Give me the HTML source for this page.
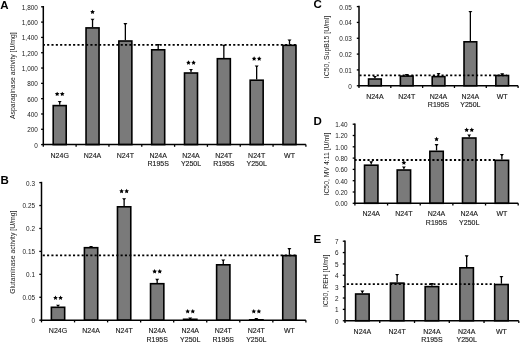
<!DOCTYPE html>
<html><head><meta charset="utf-8"><style>
html,body{margin:0;padding:0;background:#fff;width:520px;height:342px;overflow:hidden}
svg text{font-family:"Liberation Sans", sans-serif;stroke:#1a1a1a;stroke-width:0.14px}
svg text.L,svg text.T{stroke:none}
svg{will-change:transform}
</style></head><body>
<svg width="520" height="342" viewBox="0 0 520 342" style="display:block">
<rect width="520" height="342" fill="#fff"/>
<g><text class="L" x="0.3" y="9.4" font-size="11.5" font-weight="bold" fill="#000">A</text><text class="T" transform="translate(15.1,75.6) rotate(-90)" text-anchor="middle" font-size="6.85" fill="#1a1a1a">Asparaginase activity [U/mg]</text><line x1="41.099999999999994" y1="144.60" x2="43.3" y2="144.60" stroke="#000" stroke-width="1.3"/><text class="T" x="37.8" y="147.50" text-anchor="end" font-size="6.4" fill="#1a1a1a">0</text><line x1="41.099999999999994" y1="129.29" x2="43.3" y2="129.29" stroke="#000" stroke-width="1.3"/><text class="T" x="37.8" y="132.19" text-anchor="end" font-size="6.4" fill="#1a1a1a">200</text><line x1="41.099999999999994" y1="113.98" x2="43.3" y2="113.98" stroke="#000" stroke-width="1.3"/><text class="T" x="37.8" y="116.88" text-anchor="end" font-size="6.4" fill="#1a1a1a">400</text><line x1="41.099999999999994" y1="98.67" x2="43.3" y2="98.67" stroke="#000" stroke-width="1.3"/><text class="T" x="37.8" y="101.57" text-anchor="end" font-size="6.4" fill="#1a1a1a">600</text><line x1="41.099999999999994" y1="83.36" x2="43.3" y2="83.36" stroke="#000" stroke-width="1.3"/><text class="T" x="37.8" y="86.26" text-anchor="end" font-size="6.4" fill="#1a1a1a">800</text><line x1="41.099999999999994" y1="68.04" x2="43.3" y2="68.04" stroke="#000" stroke-width="1.3"/><text class="T" x="37.8" y="70.94" text-anchor="end" font-size="6.4" fill="#1a1a1a">1,000</text><line x1="41.099999999999994" y1="52.73" x2="43.3" y2="52.73" stroke="#000" stroke-width="1.3"/><text class="T" x="37.8" y="55.63" text-anchor="end" font-size="6.4" fill="#1a1a1a">1,200</text><line x1="41.099999999999994" y1="37.42" x2="43.3" y2="37.42" stroke="#000" stroke-width="1.3"/><text class="T" x="37.8" y="40.32" text-anchor="end" font-size="6.4" fill="#1a1a1a">1,400</text><line x1="41.099999999999994" y1="22.11" x2="43.3" y2="22.11" stroke="#000" stroke-width="1.3"/><text class="T" x="37.8" y="25.01" text-anchor="end" font-size="6.4" fill="#1a1a1a">1,600</text><line x1="41.099999999999994" y1="6.80" x2="43.3" y2="6.80" stroke="#000" stroke-width="1.3"/><text class="T" x="37.8" y="9.70" text-anchor="end" font-size="6.4" fill="#1a1a1a">1,800</text><line x1="59.71" y1="101.50" x2="59.71" y2="104.80" stroke="#000" stroke-width="1.3"/><polygon points="57.71,101.00 61.71,101.00 60.41,102.60 59.01,102.60" fill="#000"/><rect x="53.21" y="105.60" width="13.00" height="39.00" fill="#7a7a7a" stroke="#000" stroke-width="1.6"/><polygon points="57.16,91.65 57.88,93.11 59.49,93.34 58.33,94.48 58.60,96.08 57.16,95.32 55.72,96.08 56.00,94.48 54.83,93.34 56.44,93.11" fill="#000"/><polygon points="62.26,91.65 62.98,93.11 64.59,93.34 63.43,94.48 63.70,96.08 62.26,95.32 60.82,96.08 61.10,94.48 59.93,93.34 61.54,93.11" fill="#000"/><line x1="92.54" y1="19.20" x2="92.54" y2="27.10" stroke="#000" stroke-width="1.3"/><polygon points="90.54,18.70 94.54,18.70 93.24,20.30 91.84,20.30" fill="#000"/><rect x="86.04" y="27.90" width="13.00" height="116.70" fill="#7a7a7a" stroke="#000" stroke-width="1.6"/><polygon points="92.54,9.65 93.26,11.11 94.87,11.34 93.70,12.48 93.98,14.08 92.54,13.32 91.10,14.08 91.37,12.48 90.21,11.34 91.82,11.11" fill="#000"/><line x1="125.36" y1="23.60" x2="125.36" y2="40.20" stroke="#000" stroke-width="1.3"/><polygon points="123.36,23.10 127.36,23.10 126.06,24.70 124.66,24.70" fill="#000"/><rect x="118.86" y="41.00" width="13.00" height="103.60" fill="#7a7a7a" stroke="#000" stroke-width="1.6"/><line x1="158.19" y1="44.40" x2="158.19" y2="49.00" stroke="#000" stroke-width="1.3"/><polygon points="156.19,43.90 160.19,43.90 158.89,45.50 157.49,45.50" fill="#000"/><rect x="151.69" y="49.80" width="13.00" height="94.80" fill="#7a7a7a" stroke="#000" stroke-width="1.6"/><line x1="191.01" y1="69.50" x2="191.01" y2="72.20" stroke="#000" stroke-width="1.3"/><polygon points="189.01,69.00 193.01,69.00 191.71,70.60 190.31,70.60" fill="#000"/><rect x="184.51" y="73.00" width="13.00" height="71.60" fill="#7a7a7a" stroke="#000" stroke-width="1.6"/><polygon points="188.46,60.25 189.18,61.71 190.79,61.94 189.63,63.08 189.90,64.68 188.46,63.93 187.02,64.68 187.30,63.08 186.13,61.94 187.74,61.71" fill="#000"/><polygon points="193.56,60.25 194.28,61.71 195.89,61.94 194.73,63.08 195.00,64.68 193.56,63.93 192.12,64.68 192.40,63.08 191.23,61.94 192.84,61.71" fill="#000"/><line x1="223.84" y1="45.20" x2="223.84" y2="57.90" stroke="#000" stroke-width="1.3"/><polygon points="221.84,44.70 225.84,44.70 224.54,46.30 223.14,46.30" fill="#000"/><rect x="217.34" y="58.70" width="13.00" height="85.90" fill="#7a7a7a" stroke="#000" stroke-width="1.6"/><line x1="256.66" y1="66.00" x2="256.66" y2="79.40" stroke="#000" stroke-width="1.3"/><polygon points="254.66,65.50 258.66,65.50 257.36,67.10 255.96,67.10" fill="#000"/><rect x="250.16" y="80.20" width="13.00" height="64.40" fill="#7a7a7a" stroke="#000" stroke-width="1.6"/><polygon points="254.11,56.25 254.83,57.71 256.44,57.94 255.28,59.08 255.55,60.68 254.11,59.93 252.67,60.68 252.95,59.08 251.78,57.94 253.39,57.71" fill="#000"/><polygon points="259.21,56.25 259.93,57.71 261.54,57.94 260.38,59.08 260.65,60.68 259.21,59.93 257.77,60.68 258.05,59.08 256.88,57.94 258.49,57.71" fill="#000"/><line x1="289.49" y1="39.90" x2="289.49" y2="44.50" stroke="#000" stroke-width="1.3"/><polygon points="287.49,39.40 291.49,39.40 290.19,41.00 288.79,41.00" fill="#000"/><rect x="282.99" y="45.30" width="13.00" height="99.30" fill="#7a7a7a" stroke="#000" stroke-width="1.6"/><line x1="43.3" y1="44.9" x2="296" y2="44.9" stroke="#000" stroke-width="1.8" stroke-dasharray="2.1,2.227" stroke-dashoffset="0.492"/><line x1="43.3" y1="6.0" x2="43.3" y2="144.6" stroke="#000" stroke-width="1.5"/><line x1="42.55" y1="144.6" x2="305.9" y2="144.6" stroke="#000" stroke-width="1.5"/><line x1="43.30" y1="144.6" x2="43.30" y2="146.79999999999998" stroke="#000" stroke-width="1.3"/><line x1="76.12" y1="144.6" x2="76.12" y2="146.79999999999998" stroke="#000" stroke-width="1.3"/><line x1="108.95" y1="144.6" x2="108.95" y2="146.79999999999998" stroke="#000" stroke-width="1.3"/><line x1="141.77" y1="144.6" x2="141.77" y2="146.79999999999998" stroke="#000" stroke-width="1.3"/><line x1="174.60" y1="144.6" x2="174.60" y2="146.79999999999998" stroke="#000" stroke-width="1.3"/><line x1="207.42" y1="144.6" x2="207.42" y2="146.79999999999998" stroke="#000" stroke-width="1.3"/><line x1="240.25" y1="144.6" x2="240.25" y2="146.79999999999998" stroke="#000" stroke-width="1.3"/><line x1="273.07" y1="144.6" x2="273.07" y2="146.79999999999998" stroke="#000" stroke-width="1.3"/><line x1="305.90" y1="144.6" x2="305.90" y2="146.79999999999998" stroke="#000" stroke-width="1.3"/><text x="59.71" y="157.6" text-anchor="middle" font-size="7.0" fill="#1a1a1a">N24G</text><text x="92.54" y="157.6" text-anchor="middle" font-size="7.0" fill="#1a1a1a">N24A</text><text x="125.36" y="157.6" text-anchor="middle" font-size="7.0" fill="#1a1a1a">N24T</text><text x="158.19" y="157.6" text-anchor="middle" font-size="7.0" fill="#1a1a1a">N24A</text><text x="158.19" y="166" text-anchor="middle" font-size="7.0" fill="#1a1a1a">R195S</text><text x="191.01" y="157.6" text-anchor="middle" font-size="7.0" fill="#1a1a1a">N24A</text><text x="191.01" y="166" text-anchor="middle" font-size="7.0" fill="#1a1a1a">Y250L</text><text x="223.84" y="157.6" text-anchor="middle" font-size="7.0" fill="#1a1a1a">N24T</text><text x="223.84" y="166" text-anchor="middle" font-size="7.0" fill="#1a1a1a">R195S</text><text x="256.66" y="157.6" text-anchor="middle" font-size="7.0" fill="#1a1a1a">N24T</text><text x="256.66" y="166" text-anchor="middle" font-size="7.0" fill="#1a1a1a">Y250L</text><text x="289.49" y="157.6" text-anchor="middle" font-size="7.0" fill="#1a1a1a">WT</text></g>
<g><text class="L" x="0.5" y="184.0" font-size="11.5" font-weight="bold" fill="#000">B</text><text class="T" transform="translate(15.1,252.2) rotate(-90)" text-anchor="middle" font-size="6.85" fill="#1a1a1a">Glutaminase activity [U/mg]</text><line x1="39.3" y1="320.20" x2="41.5" y2="320.20" stroke="#000" stroke-width="1.3"/><text class="T" x="35.0" y="323.10" text-anchor="end" font-size="6.4" fill="#1a1a1a">0</text><line x1="39.3" y1="297.27" x2="41.5" y2="297.27" stroke="#000" stroke-width="1.3"/><text class="T" x="35.0" y="300.17" text-anchor="end" font-size="6.4" fill="#1a1a1a">0.05</text><line x1="39.3" y1="274.33" x2="41.5" y2="274.33" stroke="#000" stroke-width="1.3"/><text class="T" x="35.0" y="277.23" text-anchor="end" font-size="6.4" fill="#1a1a1a">0.1</text><line x1="39.3" y1="251.40" x2="41.5" y2="251.40" stroke="#000" stroke-width="1.3"/><text class="T" x="35.0" y="254.30" text-anchor="end" font-size="6.4" fill="#1a1a1a">0.15</text><line x1="39.3" y1="228.47" x2="41.5" y2="228.47" stroke="#000" stroke-width="1.3"/><text class="T" x="35.0" y="231.37" text-anchor="end" font-size="6.4" fill="#1a1a1a">0.2</text><line x1="39.3" y1="205.53" x2="41.5" y2="205.53" stroke="#000" stroke-width="1.3"/><text class="T" x="35.0" y="208.43" text-anchor="end" font-size="6.4" fill="#1a1a1a">0.25</text><line x1="39.3" y1="182.60" x2="41.5" y2="182.60" stroke="#000" stroke-width="1.3"/><text class="T" x="35.0" y="185.50" text-anchor="end" font-size="6.4" fill="#1a1a1a">0.3</text><line x1="58.02" y1="305.20" x2="58.02" y2="306.50" stroke="#000" stroke-width="1.3"/><polygon points="56.02,304.70 60.02,304.70 58.73,306.30 57.32,306.30" fill="#000"/><rect x="51.37" y="307.30" width="13.30" height="12.90" fill="#7a7a7a" stroke="#000" stroke-width="1.6"/><polygon points="55.48,295.45 56.20,296.91 57.81,297.14 56.64,298.28 56.92,299.88 55.48,299.12 54.03,299.88 54.31,298.28 53.14,297.14 54.75,296.91" fill="#000"/><polygon points="60.57,295.45 61.30,296.91 62.91,297.14 61.74,298.28 62.02,299.88 60.57,299.12 59.13,299.88 59.41,298.28 58.24,297.14 59.85,296.91" fill="#000"/><line x1="91.07" y1="246.50" x2="91.07" y2="246.90" stroke="#000" stroke-width="1.3"/><polygon points="89.07,246.00 93.07,246.00 91.77,247.60 90.37,247.60" fill="#000"/><rect x="84.42" y="247.70" width="13.30" height="72.50" fill="#7a7a7a" stroke="#000" stroke-width="1.6"/><line x1="124.12" y1="198.70" x2="124.12" y2="206.00" stroke="#000" stroke-width="1.3"/><polygon points="122.12,198.20 126.12,198.20 124.83,199.80 123.42,199.80" fill="#000"/><rect x="117.47" y="206.80" width="13.30" height="113.40" fill="#7a7a7a" stroke="#000" stroke-width="1.6"/><polygon points="121.58,188.75 122.30,190.21 123.91,190.44 122.74,191.58 123.02,193.18 121.58,192.42 120.13,193.18 120.41,191.58 119.24,190.44 120.85,190.21" fill="#000"/><polygon points="126.67,188.75 127.40,190.21 129.01,190.44 127.84,191.58 128.12,193.18 126.67,192.42 125.23,193.18 125.51,191.58 124.34,190.44 125.95,190.21" fill="#000"/><line x1="157.17" y1="279.30" x2="157.17" y2="282.90" stroke="#000" stroke-width="1.3"/><polygon points="155.17,278.80 159.17,278.80 157.87,280.40 156.47,280.40" fill="#000"/><rect x="150.53" y="283.70" width="13.30" height="36.50" fill="#7a7a7a" stroke="#000" stroke-width="1.6"/><polygon points="154.62,269.05 155.35,270.51 156.96,270.74 155.79,271.88 156.07,273.48 154.62,272.73 153.18,273.48 153.46,271.88 152.29,270.74 153.90,270.51" fill="#000"/><polygon points="159.72,269.05 160.45,270.51 162.06,270.74 160.89,271.88 161.17,273.48 159.72,272.73 158.28,273.48 158.56,271.88 157.39,270.74 159.00,270.51" fill="#000"/><line x1="190.22" y1="318.00" x2="190.22" y2="318.50" stroke="#000" stroke-width="1.3"/><polygon points="188.22,317.50 192.22,317.50 190.92,319.10 189.53,319.10" fill="#000"/><rect x="183.58" y="319.30" width="13.30" height="0.90" fill="#7a7a7a" stroke="#000" stroke-width="1.6"/><polygon points="187.67,308.95 188.40,310.41 190.01,310.64 188.84,311.78 189.12,313.38 187.67,312.62 186.23,313.38 186.51,311.78 185.34,310.64 186.95,310.41" fill="#000"/><polygon points="192.78,308.95 193.50,310.41 195.11,310.64 193.94,311.78 194.22,313.38 192.78,312.62 191.33,313.38 191.61,311.78 190.44,310.64 192.05,310.41" fill="#000"/><line x1="223.27" y1="260.00" x2="223.27" y2="264.00" stroke="#000" stroke-width="1.3"/><polygon points="221.27,259.50 225.27,259.50 223.97,261.10 222.57,261.10" fill="#000"/><rect x="216.62" y="264.80" width="13.30" height="55.40" fill="#7a7a7a" stroke="#000" stroke-width="1.6"/><line x1="256.32" y1="318.50" x2="256.32" y2="319.00" stroke="#000" stroke-width="1.3"/><polygon points="254.32,318.00 258.32,318.00 257.02,319.60 255.62,319.60" fill="#000"/><rect x="249.68" y="319.80" width="13.30" height="0.40" fill="#7a7a7a" stroke="#000" stroke-width="1.6"/><polygon points="253.77,308.95 254.50,310.41 256.11,310.64 254.94,311.78 255.22,313.38 253.77,312.62 252.33,313.38 252.61,311.78 251.44,310.64 253.05,310.41" fill="#000"/><polygon points="258.88,308.95 259.60,310.41 261.21,310.64 260.04,311.78 260.32,313.38 258.88,312.62 257.43,313.38 257.71,311.78 256.54,310.64 258.15,310.41" fill="#000"/><line x1="289.38" y1="248.60" x2="289.38" y2="254.80" stroke="#000" stroke-width="1.3"/><polygon points="287.38,248.10 291.38,248.10 290.07,249.70 288.68,249.70" fill="#000"/><rect x="282.73" y="255.60" width="13.30" height="64.60" fill="#7a7a7a" stroke="#000" stroke-width="1.6"/><line x1="41.5" y1="255.3" x2="296" y2="255.3" stroke="#000" stroke-width="1.8" stroke-dasharray="2.1,2.224" stroke-dashoffset="3.086"/><line x1="41.5" y1="181.79999999999998" x2="41.5" y2="320.2" stroke="#000" stroke-width="1.5"/><line x1="40.75" y1="320.2" x2="305.9" y2="320.2" stroke="#000" stroke-width="1.5"/><line x1="41.50" y1="320.2" x2="41.50" y2="322.4" stroke="#000" stroke-width="1.3"/><line x1="74.55" y1="320.2" x2="74.55" y2="322.4" stroke="#000" stroke-width="1.3"/><line x1="107.60" y1="320.2" x2="107.60" y2="322.4" stroke="#000" stroke-width="1.3"/><line x1="140.65" y1="320.2" x2="140.65" y2="322.4" stroke="#000" stroke-width="1.3"/><line x1="173.70" y1="320.2" x2="173.70" y2="322.4" stroke="#000" stroke-width="1.3"/><line x1="206.75" y1="320.2" x2="206.75" y2="322.4" stroke="#000" stroke-width="1.3"/><line x1="239.80" y1="320.2" x2="239.80" y2="322.4" stroke="#000" stroke-width="1.3"/><line x1="272.85" y1="320.2" x2="272.85" y2="322.4" stroke="#000" stroke-width="1.3"/><line x1="305.90" y1="320.2" x2="305.90" y2="322.4" stroke="#000" stroke-width="1.3"/><text x="58.02" y="333.2" text-anchor="middle" font-size="7.0" fill="#1a1a1a">N24G</text><text x="91.07" y="333.2" text-anchor="middle" font-size="7.0" fill="#1a1a1a">N24A</text><text x="124.12" y="333.2" text-anchor="middle" font-size="7.0" fill="#1a1a1a">N24T</text><text x="157.17" y="333.2" text-anchor="middle" font-size="7.0" fill="#1a1a1a">N24A</text><text x="157.17" y="341.6" text-anchor="middle" font-size="7.0" fill="#1a1a1a">R195S</text><text x="190.22" y="333.2" text-anchor="middle" font-size="7.0" fill="#1a1a1a">N24A</text><text x="190.22" y="341.6" text-anchor="middle" font-size="7.0" fill="#1a1a1a">Y250L</text><text x="223.27" y="333.2" text-anchor="middle" font-size="7.0" fill="#1a1a1a">N24T</text><text x="223.27" y="341.6" text-anchor="middle" font-size="7.0" fill="#1a1a1a">R195S</text><text x="256.32" y="333.2" text-anchor="middle" font-size="7.0" fill="#1a1a1a">N24T</text><text x="256.32" y="341.6" text-anchor="middle" font-size="7.0" fill="#1a1a1a">Y250L</text><text x="289.38" y="333.2" text-anchor="middle" font-size="7.0" fill="#1a1a1a">WT</text></g>
<g><text class="L" x="313.5" y="8.1" font-size="11.5" font-weight="bold" fill="#000">C</text><text class="T" transform="translate(329.1,47) rotate(-90)" text-anchor="middle" font-size="6.85" fill="#1a1a1a">IC50, SupB15 [U/ml]</text><line x1="356.8" y1="85.75" x2="359" y2="85.75" stroke="#000" stroke-width="1.3"/><text class="T" x="351.8" y="88.65" text-anchor="end" font-size="6.4" fill="#1a1a1a">0</text><line x1="356.8" y1="69.92" x2="359" y2="69.92" stroke="#000" stroke-width="1.3"/><text class="T" x="351.8" y="72.82" text-anchor="end" font-size="6.4" fill="#1a1a1a">0.01</text><line x1="356.8" y1="54.09" x2="359" y2="54.09" stroke="#000" stroke-width="1.3"/><text class="T" x="351.8" y="56.99" text-anchor="end" font-size="6.4" fill="#1a1a1a">0.02</text><line x1="356.8" y1="38.26" x2="359" y2="38.26" stroke="#000" stroke-width="1.3"/><text class="T" x="351.8" y="41.16" text-anchor="end" font-size="6.4" fill="#1a1a1a">0.03</text><line x1="356.8" y1="22.43" x2="359" y2="22.43" stroke="#000" stroke-width="1.3"/><text class="T" x="351.8" y="25.33" text-anchor="end" font-size="6.4" fill="#1a1a1a">0.04</text><line x1="356.8" y1="6.60" x2="359" y2="6.60" stroke="#000" stroke-width="1.3"/><text class="T" x="351.8" y="9.50" text-anchor="end" font-size="6.4" fill="#1a1a1a">0.05</text><line x1="374.91" y1="76.40" x2="374.91" y2="78.20" stroke="#000" stroke-width="1.3"/><polygon points="372.91,75.90 376.91,75.90 375.61,77.50 374.21,77.50" fill="#000"/><rect x="368.56" y="79.00" width="12.70" height="6.75" fill="#7a7a7a" stroke="#000" stroke-width="1.6"/><line x1="406.73" y1="74.60" x2="406.73" y2="75.30" stroke="#000" stroke-width="1.3"/><polygon points="404.73,74.10 408.73,74.10 407.43,75.70 406.03,75.70" fill="#000"/><rect x="400.38" y="76.10" width="12.70" height="9.65" fill="#7a7a7a" stroke="#000" stroke-width="1.6"/><line x1="438.55" y1="73.40" x2="438.55" y2="75.80" stroke="#000" stroke-width="1.3"/><polygon points="436.55,72.90 440.55,72.90 439.25,74.50 437.85,74.50" fill="#000"/><rect x="432.20" y="76.60" width="12.70" height="9.15" fill="#7a7a7a" stroke="#000" stroke-width="1.6"/><line x1="470.37" y1="11.50" x2="470.37" y2="41.00" stroke="#000" stroke-width="1.3"/><polygon points="468.37,11.00 472.37,11.00 471.07,12.60 469.67,12.60" fill="#000"/><rect x="464.02" y="41.80" width="12.70" height="43.95" fill="#7a7a7a" stroke="#000" stroke-width="1.6"/><line x1="502.19" y1="73.80" x2="502.19" y2="74.70" stroke="#000" stroke-width="1.3"/><polygon points="500.19,73.30 504.19,73.30 502.89,74.90 501.49,74.90" fill="#000"/><rect x="495.84" y="75.50" width="12.70" height="10.25" fill="#7a7a7a" stroke="#000" stroke-width="1.6"/><line x1="359" y1="75.4" x2="507" y2="75.4" stroke="#000" stroke-width="1.8" stroke-dasharray="2.1,2.220" stroke-dashoffset="3.890"/><line x1="359" y1="5.8" x2="359" y2="85.75" stroke="#000" stroke-width="1.5"/><line x1="358.25" y1="85.75" x2="518.1" y2="85.75" stroke="#000" stroke-width="1.5"/><line x1="359.00" y1="85.75" x2="359.00" y2="87.95" stroke="#000" stroke-width="1.3"/><line x1="390.82" y1="85.75" x2="390.82" y2="87.95" stroke="#000" stroke-width="1.3"/><line x1="422.64" y1="85.75" x2="422.64" y2="87.95" stroke="#000" stroke-width="1.3"/><line x1="454.46" y1="85.75" x2="454.46" y2="87.95" stroke="#000" stroke-width="1.3"/><line x1="486.28" y1="85.75" x2="486.28" y2="87.95" stroke="#000" stroke-width="1.3"/><line x1="518.10" y1="85.75" x2="518.10" y2="87.95" stroke="#000" stroke-width="1.3"/><text x="374.91" y="98.8" text-anchor="middle" font-size="7.0" fill="#1a1a1a">N24A</text><text x="406.73" y="98.8" text-anchor="middle" font-size="7.0" fill="#1a1a1a">N24T</text><text x="438.55" y="98.8" text-anchor="middle" font-size="7.0" fill="#1a1a1a">N24A</text><text x="438.55" y="107.2" text-anchor="middle" font-size="7.0" fill="#1a1a1a">R195S</text><text x="470.37" y="98.8" text-anchor="middle" font-size="7.0" fill="#1a1a1a">N24A</text><text x="470.37" y="107.2" text-anchor="middle" font-size="7.0" fill="#1a1a1a">Y250L</text><text x="502.19" y="98.8" text-anchor="middle" font-size="7.0" fill="#1a1a1a">WT</text></g>
<g><text class="L" x="313.5" y="125.2" font-size="11.5" font-weight="bold" fill="#000">D</text><text class="T" transform="translate(328.8,164) rotate(-90)" text-anchor="middle" font-size="6.85" fill="#1a1a1a">IC50, MV 4:11 [U/ml]</text><line x1="352.7" y1="203.30" x2="354.9" y2="203.30" stroke="#000" stroke-width="1.3"/><text class="T" x="347.59999999999997" y="206.20" text-anchor="end" font-size="6.4" fill="#1a1a1a">0.00</text><line x1="352.7" y1="192.00" x2="354.9" y2="192.00" stroke="#000" stroke-width="1.3"/><text class="T" x="347.59999999999997" y="194.90" text-anchor="end" font-size="6.4" fill="#1a1a1a">0.20</text><line x1="352.7" y1="180.70" x2="354.9" y2="180.70" stroke="#000" stroke-width="1.3"/><text class="T" x="347.59999999999997" y="183.60" text-anchor="end" font-size="6.4" fill="#1a1a1a">0.40</text><line x1="352.7" y1="169.40" x2="354.9" y2="169.40" stroke="#000" stroke-width="1.3"/><text class="T" x="347.59999999999997" y="172.30" text-anchor="end" font-size="6.4" fill="#1a1a1a">0.60</text><line x1="352.7" y1="158.10" x2="354.9" y2="158.10" stroke="#000" stroke-width="1.3"/><text class="T" x="347.59999999999997" y="161.00" text-anchor="end" font-size="6.4" fill="#1a1a1a">0.80</text><line x1="352.7" y1="146.80" x2="354.9" y2="146.80" stroke="#000" stroke-width="1.3"/><text class="T" x="347.59999999999997" y="149.70" text-anchor="end" font-size="6.4" fill="#1a1a1a">1.00</text><line x1="352.7" y1="135.50" x2="354.9" y2="135.50" stroke="#000" stroke-width="1.3"/><text class="T" x="347.59999999999997" y="138.40" text-anchor="end" font-size="6.4" fill="#1a1a1a">1.20</text><line x1="352.7" y1="124.20" x2="354.9" y2="124.20" stroke="#000" stroke-width="1.3"/><text class="T" x="347.59999999999997" y="127.10" text-anchor="end" font-size="6.4" fill="#1a1a1a">1.40</text><line x1="371.23" y1="161.80" x2="371.23" y2="164.40" stroke="#000" stroke-width="1.3"/><polygon points="369.23,161.30 373.23,161.30 371.93,162.90 370.53,162.90" fill="#000"/><rect x="364.53" y="165.20" width="13.40" height="38.10" fill="#7a7a7a" stroke="#000" stroke-width="1.6"/><line x1="403.89" y1="167.00" x2="403.89" y2="169.20" stroke="#000" stroke-width="1.3"/><polygon points="401.89,166.50 405.89,166.50 404.59,168.10 403.19,168.10" fill="#000"/><rect x="397.19" y="170.00" width="13.40" height="33.30" fill="#7a7a7a" stroke="#000" stroke-width="1.6"/><polygon points="403.89,160.35 404.61,161.81 406.22,162.04 405.06,163.18 405.33,164.78 403.89,164.03 402.45,164.78 402.72,163.18 401.56,162.04 403.17,161.81" fill="#000"/><line x1="436.55" y1="144.60" x2="436.55" y2="150.50" stroke="#000" stroke-width="1.3"/><polygon points="434.55,144.10 438.55,144.10 437.25,145.70 435.85,145.70" fill="#000"/><rect x="429.85" y="151.30" width="13.40" height="52.00" fill="#7a7a7a" stroke="#000" stroke-width="1.6"/><polygon points="436.55,136.75 437.27,138.21 438.88,138.44 437.72,139.58 437.99,141.18 436.55,140.42 435.11,141.18 435.38,139.58 434.22,138.44 435.83,138.21" fill="#000"/><line x1="469.21" y1="135.00" x2="469.21" y2="137.20" stroke="#000" stroke-width="1.3"/><polygon points="467.21,134.50 471.21,134.50 469.91,136.10 468.51,136.10" fill="#000"/><rect x="462.51" y="138.00" width="13.40" height="65.30" fill="#7a7a7a" stroke="#000" stroke-width="1.6"/><polygon points="466.66,127.55 467.38,129.01 468.99,129.24 467.83,130.38 468.10,131.98 466.66,131.22 465.22,131.98 465.49,130.38 464.33,129.24 465.94,129.01" fill="#000"/><polygon points="471.76,127.55 472.48,129.01 474.09,129.24 472.93,130.38 473.20,131.98 471.76,131.22 470.32,131.98 470.59,130.38 469.43,129.24 471.04,129.01" fill="#000"/><line x1="501.87" y1="154.60" x2="501.87" y2="159.50" stroke="#000" stroke-width="1.3"/><polygon points="499.87,154.10 503.87,154.10 502.57,155.70 501.17,155.70" fill="#000"/><rect x="495.17" y="160.30" width="13.40" height="43.00" fill="#7a7a7a" stroke="#000" stroke-width="1.6"/><line x1="354.9" y1="160.0" x2="495" y2="160.0" stroke="#000" stroke-width="1.8" stroke-dasharray="2.1,2.225" stroke-dashoffset="0.375"/><line x1="354.9" y1="123.4" x2="354.9" y2="203.3" stroke="#000" stroke-width="1.5"/><line x1="354.15" y1="203.3" x2="518.2" y2="203.3" stroke="#000" stroke-width="1.5"/><line x1="354.90" y1="203.3" x2="354.90" y2="205.5" stroke="#000" stroke-width="1.3"/><line x1="387.56" y1="203.3" x2="387.56" y2="205.5" stroke="#000" stroke-width="1.3"/><line x1="420.22" y1="203.3" x2="420.22" y2="205.5" stroke="#000" stroke-width="1.3"/><line x1="452.88" y1="203.3" x2="452.88" y2="205.5" stroke="#000" stroke-width="1.3"/><line x1="485.54" y1="203.3" x2="485.54" y2="205.5" stroke="#000" stroke-width="1.3"/><line x1="518.20" y1="203.3" x2="518.20" y2="205.5" stroke="#000" stroke-width="1.3"/><text x="371.23" y="216.4" text-anchor="middle" font-size="7.0" fill="#1a1a1a">N24A</text><text x="403.89" y="216.4" text-anchor="middle" font-size="7.0" fill="#1a1a1a">N24T</text><text x="436.55" y="216.4" text-anchor="middle" font-size="7.0" fill="#1a1a1a">N24A</text><text x="436.55" y="224.8" text-anchor="middle" font-size="7.0" fill="#1a1a1a">R195S</text><text x="469.21" y="216.4" text-anchor="middle" font-size="7.0" fill="#1a1a1a">N24A</text><text x="469.21" y="224.8" text-anchor="middle" font-size="7.0" fill="#1a1a1a">Y250L</text><text x="501.87" y="216.4" text-anchor="middle" font-size="7.0" fill="#1a1a1a">WT</text></g>
<g><text class="L" x="313.6" y="242.7" font-size="11.5" font-weight="bold" fill="#000">E</text><text class="T" transform="translate(328.1,280.8) rotate(-90)" text-anchor="middle" font-size="6.85" fill="#1a1a1a">IC50, REH [U/ml]</text><line x1="342.8" y1="320.75" x2="345" y2="320.75" stroke="#000" stroke-width="1.3"/><text class="T" x="338.6" y="323.65" text-anchor="end" font-size="6.4" fill="#1a1a1a">0</text><line x1="342.8" y1="309.39" x2="345" y2="309.39" stroke="#000" stroke-width="1.3"/><text class="T" x="338.6" y="312.29" text-anchor="end" font-size="6.4" fill="#1a1a1a">1</text><line x1="342.8" y1="298.02" x2="345" y2="298.02" stroke="#000" stroke-width="1.3"/><text class="T" x="338.6" y="300.92" text-anchor="end" font-size="6.4" fill="#1a1a1a">2</text><line x1="342.8" y1="286.66" x2="345" y2="286.66" stroke="#000" stroke-width="1.3"/><text class="T" x="338.6" y="289.56" text-anchor="end" font-size="6.4" fill="#1a1a1a">3</text><line x1="342.8" y1="275.29" x2="345" y2="275.29" stroke="#000" stroke-width="1.3"/><text class="T" x="338.6" y="278.19" text-anchor="end" font-size="6.4" fill="#1a1a1a">4</text><line x1="342.8" y1="263.93" x2="345" y2="263.93" stroke="#000" stroke-width="1.3"/><text class="T" x="338.6" y="266.83" text-anchor="end" font-size="6.4" fill="#1a1a1a">5</text><line x1="342.8" y1="252.56" x2="345" y2="252.56" stroke="#000" stroke-width="1.3"/><text class="T" x="338.6" y="255.46" text-anchor="end" font-size="6.4" fill="#1a1a1a">6</text><line x1="342.8" y1="241.20" x2="345" y2="241.20" stroke="#000" stroke-width="1.3"/><text class="T" x="338.6" y="244.10" text-anchor="end" font-size="6.4" fill="#1a1a1a">7</text><line x1="362.38" y1="291.10" x2="362.38" y2="293.20" stroke="#000" stroke-width="1.3"/><polygon points="360.38,290.60 364.38,290.60 363.08,292.20 361.68,292.20" fill="#000"/><rect x="355.63" y="294.00" width="13.50" height="26.75" fill="#7a7a7a" stroke="#000" stroke-width="1.6"/><line x1="397.14" y1="274.50" x2="397.14" y2="282.30" stroke="#000" stroke-width="1.3"/><polygon points="395.14,274.00 399.14,274.00 397.84,275.60 396.44,275.60" fill="#000"/><rect x="390.39" y="283.10" width="13.50" height="37.65" fill="#7a7a7a" stroke="#000" stroke-width="1.6"/><line x1="431.90" y1="283.60" x2="431.90" y2="285.80" stroke="#000" stroke-width="1.3"/><polygon points="429.90,283.10 433.90,283.10 432.60,284.70 431.20,284.70" fill="#000"/><rect x="425.15" y="286.60" width="13.50" height="34.15" fill="#7a7a7a" stroke="#000" stroke-width="1.6"/><line x1="466.66" y1="255.80" x2="466.66" y2="267.00" stroke="#000" stroke-width="1.3"/><polygon points="464.66,255.30 468.66,255.30 467.36,256.90 465.96,256.90" fill="#000"/><rect x="459.91" y="267.80" width="13.50" height="52.95" fill="#7a7a7a" stroke="#000" stroke-width="1.6"/><line x1="501.42" y1="276.50" x2="501.42" y2="283.70" stroke="#000" stroke-width="1.3"/><polygon points="499.42,276.00 503.42,276.00 502.12,277.60 500.72,277.60" fill="#000"/><rect x="494.67" y="284.50" width="13.50" height="36.25" fill="#7a7a7a" stroke="#000" stroke-width="1.6"/><line x1="345" y1="284.15" x2="495" y2="284.15" stroke="#000" stroke-width="1.8" stroke-dasharray="2.1,2.230" stroke-dashoffset="2.540"/><line x1="345" y1="240.39999999999998" x2="345" y2="320.75" stroke="#000" stroke-width="1.5"/><line x1="344.25" y1="320.75" x2="518.8" y2="320.75" stroke="#000" stroke-width="1.5"/><line x1="345.00" y1="320.75" x2="345.00" y2="322.95" stroke="#000" stroke-width="1.3"/><line x1="379.76" y1="320.75" x2="379.76" y2="322.95" stroke="#000" stroke-width="1.3"/><line x1="414.52" y1="320.75" x2="414.52" y2="322.95" stroke="#000" stroke-width="1.3"/><line x1="449.28" y1="320.75" x2="449.28" y2="322.95" stroke="#000" stroke-width="1.3"/><line x1="484.04" y1="320.75" x2="484.04" y2="322.95" stroke="#000" stroke-width="1.3"/><line x1="518.80" y1="320.75" x2="518.80" y2="322.95" stroke="#000" stroke-width="1.3"/><text x="362.38" y="333.6" text-anchor="middle" font-size="7.0" fill="#1a1a1a">N24A</text><text x="397.14" y="333.6" text-anchor="middle" font-size="7.0" fill="#1a1a1a">N24T</text><text x="431.90" y="333.6" text-anchor="middle" font-size="7.0" fill="#1a1a1a">N24A</text><text x="431.90" y="342" text-anchor="middle" font-size="7.0" fill="#1a1a1a">R195S</text><text x="466.66" y="333.6" text-anchor="middle" font-size="7.0" fill="#1a1a1a">N24A</text><text x="466.66" y="342" text-anchor="middle" font-size="7.0" fill="#1a1a1a">Y250L</text><text x="501.42" y="333.6" text-anchor="middle" font-size="7.0" fill="#1a1a1a">WT</text></g>
</svg>
</body></html>
